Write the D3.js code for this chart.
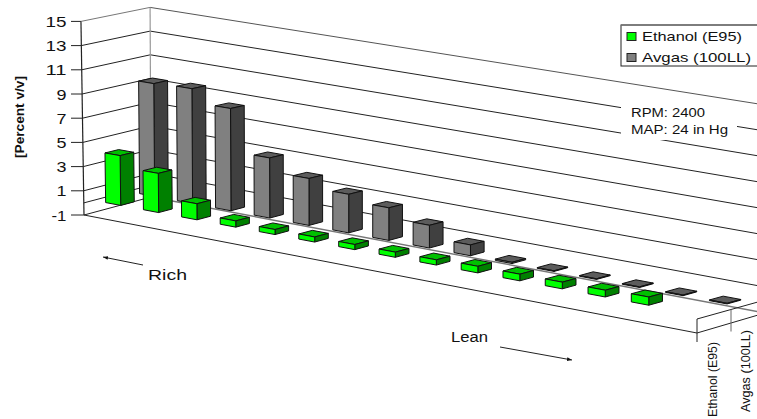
<!DOCTYPE html>
<html>
<head>
<meta charset="utf-8">
<script src="https://cdnjs.cloudflare.com/ajax/libs/d3/7.8.5/d3.min.js"></script>
<style>
  html, body { margin: 0; padding: 0; background: #fff; overflow: hidden; }
  text { font-family: "Liberation Sans", Arial, sans-serif; fill: #111; }
</style>
</head>
<body>
<script>
// values
const categories = d3.range(1, 16);
const seriesNames = ['Ethanol (E95)', 'Avgas (100LL)'];
const ethanol = [4.1, 3.2, 1.3, 0.5, 0.4, 0.4, 0.4, 0.4, 0.4, 0.5, 0.5, 0.5, 0.5, 0.6, null];
const avgas = [9.4, 9.5, 8.4, 4.9, 3.8, 3.1, 2.6, 1.8, 0.85, 0.1, 0.05, 0.05, 0.05, 0.05, 0.05];
const yTicks = [-1, 1, 3, 5, 7, 9, 11, 13, 15];

const width = 757, height = 419;
const lerp = (a, b, k) => a + (b - a) * k;

// floor corners and unit heights of the 3d box
const corner = {
  fl: [84, 215], fr: [697, 333],
  bl: [151, 197], br: [765, 313]
};
const unit = {fl: 12.1, fr: 14, bl: 11.85, br: 13};
const persp = t => t / (1 + 0.09 * (1 - t));

const catScale = d3.scaleBand().domain(categories).range([0, 1]).paddingInner(0.6).paddingOuter(0.32);
const depthScale = d3.scaleBand().domain(seriesNames).range([0, 1]).paddingInner(0.6).paddingOuter(0.29);
const valueScale = d3.scaleLinear().domain([-1, 15]).range([0, 16]);

function project(t, d, v) {
  const u = persp(t);
  const x = lerp(lerp(corner.fl[0], corner.fr[0], u), lerp(corner.bl[0], corner.br[0], u), d);
  const y = lerp(lerp(corner.fl[1], corner.fr[1], u), lerp(corner.bl[1], corner.br[1], u), d);
  const h = lerp(lerp(unit.fl, unit.fr, u), lerp(unit.bl, unit.br, u), d);
  const lean = -0.19 * Math.max(0, 1 - 3 * u) * (1 - 0.7 * d);
  const n = valueScale(v);
  return [x + n * lean, y - n * h];
}

const svg = d3.select('body').append('svg')
  .attr('width', width)
  .attr('height', height)
  .style('display', 'block');

const line = d3.line();
function seg(a, b, color, w) {
  svg.append('path')
    .attr('d', line([a, b]))
    .attr('fill', 'none')
    .attr('stroke', color)
    .attr('stroke-width', w || 1);
}

// walls
yTicks.forEach(v => {
  const top = v === 15;
  seg(project(0, 0, v), project(0, 1, v), top ? '#777' : '#222');
  seg(project(0, 1, v), project(1, 1, v), top ? '#555' : v === -1 ? '#777' : '#222', v === -1 ? 1.4 : 1);
});
seg(project(0, 0, 0), project(0, 1, 0), '#222');
seg(project(0, 1, -1), project(0, 1, 15), '#999', 1.2);

// floor front edge and the right side
seg(project(0, 0, -1), project(1, 0, -1), '#222');
seg(project(1, 0, -1), project(1, 1, -1), '#222');
seg(project(1, 0, 0), project(1, 1, 0), '#222');

// y axis
seg(project(0, 0, -1), project(0, 0, 15), '#222', 1.2);
yTicks.forEach(v => {
  const p = project(0, 0, v);
  seg([71, p[1]], p, '#222');
  svg.append('text')
    .attr('x', 66.5)
    .attr('y', p[1] + 5.5)
    .attr('text-anchor', 'end')
    .attr('font-size', 15.5)
    .attr('textLength', v === -1 ? 15 : String(v).length === 2 ? 21 : 10)
    .attr('lengthAdjust', 'spacingAndGlyphs')
    .text(v);
});

// series ticks, they run through the floor edge
const tickEnd = project(1, 0, 0);
seg(tickEnd, [tickEnd[0], tickEnd[1] + 23], '#222');
const tickMid = project(1, 0.5, 0);
seg(tickMid, [tickMid[0], tickMid[1] + 22], '#666');

// bars
function drawBar(cat, name, value, colors) {
  const t0 = catScale(cat), t1 = t0 + catScale.bandwidth();
  const d0 = depthScale(name), d1 = d0 + depthScale.bandwidth();
  const faces = [
    {fill: colors.top, pts: [[t0, d0, value], [t1, d0, value], [t1, d1, value], [t0, d1, value]]},
    {fill: colors.side, pts: [[t1, d0, 0], [t1, d1, 0], [t1, d1, value], [t1, d0, value]]},
    {fill: colors.front, pts: [[t0, d0, 0], [t1, d0, 0], [t1, d0, value], [t0, d0, value]]}
  ];
  svg.append('g').selectAll('path')
    .data(faces)
    .enter().append('path')
    .attr('d', f => line(f.pts.map(p => project(p[0], p[1], p[2]))) + 'Z')
    .attr('fill', f => f.fill)
    .attr('stroke', '#111')
    .attr('stroke-width', colors.sw)
    .attr('stroke-linejoin', 'round');
}
const greyColors = {front: '#808080', side: '#404040', top: '#5c5c5c', sw: 1};
const greenColors = {front: '#00ff00', side: '#008000', top: '#00c000', sw: 1};

avgas.forEach((v, i) => {
  drawBar(categories[i], seriesNames[1], v, greyColors);
});
ethanol.forEach((v, i) => {
  if (v !== null) drawBar(categories[i], seriesNames[0], v, greenColors);
});

// note box sits over the gridlines
svg.append('rect')
  .attr('x', 621).attr('y', 104)
  .attr('width', 116).attr('height', 36)
  .attr('fill', '#fff');
function label(str, x, y, size, len) {
  svg.append('text')
    .attr('x', x).attr('y', y)
    .attr('font-size', size)
    .attr('textLength', len)
    .attr('lengthAdjust', 'spacingAndGlyphs')
    .text(str);
}
label('RPM: 2400', 631, 117, 12.5, 74);
label('MAP: 24 in Hg', 631, 134, 12.5, 97);
label('Rich', 148, 280, 14, 39);
label('Lean', 451, 342, 14, 37);

// legend
svg.append('rect')
  .attr('x', 621).attr('y', 25)
  .attr('width', 140).attr('height', 41)
  .attr('fill', '#fff')
  .attr('stroke', '#222');
seg([621, 25], [757, 25], '#777', 1.6);
[[seriesNames[0], '#00ff00', 41, 100], [seriesNames[1], '#808080', 62, 109]].forEach(l => {
  svg.append('rect')
    .attr('x', 627).attr('y', l[2] - 8.5)
    .attr('width', 9).attr('height', 8)
    .attr('fill', l[1])
    .attr('stroke', '#222');
  label(l[0], 642, l[2], 13.5, l[3]);
});

// arrows
svg.append('defs').append('marker')
  .attr('id', 'head')
  .attr('viewBox', '0 0 8 6')
  .attr('refX', 8).attr('refY', 3)
  .attr('markerWidth', 5).attr('markerHeight', 3.8)
  .attr('orient', 'auto')
  .append('path')
  .attr('d', 'M0,0L8,3L0,6Z')
  .attr('fill', '#111');
[[[143, 265], [103, 257]], [[500, 347], [572, 360]]].forEach(a => {
  svg.append('path')
    .attr('d', line(a))
    .attr('stroke', '#222')
    .attr('marker-end', 'url(#head)');
});

// rotated labels
function vlabel(str, x, y, size, len, weight) {
  svg.append('text')
    .attr('transform', `translate(${x},${y}) rotate(-90)`)
    .attr('font-size', size)
    .attr('font-weight', weight || 'normal')
    .attr('textLength', len)
    .attr('lengthAdjust', 'spacingAndGlyphs')
    .text(str);
}
vlabel('[Percent v/v]', 24, 158, 12.5, 82, 'bold');
vlabel(seriesNames[0], 717, 417, 13, 75);
vlabel(seriesNames[1], 750, 412, 13, 82);
</script>
</body>
</html>
